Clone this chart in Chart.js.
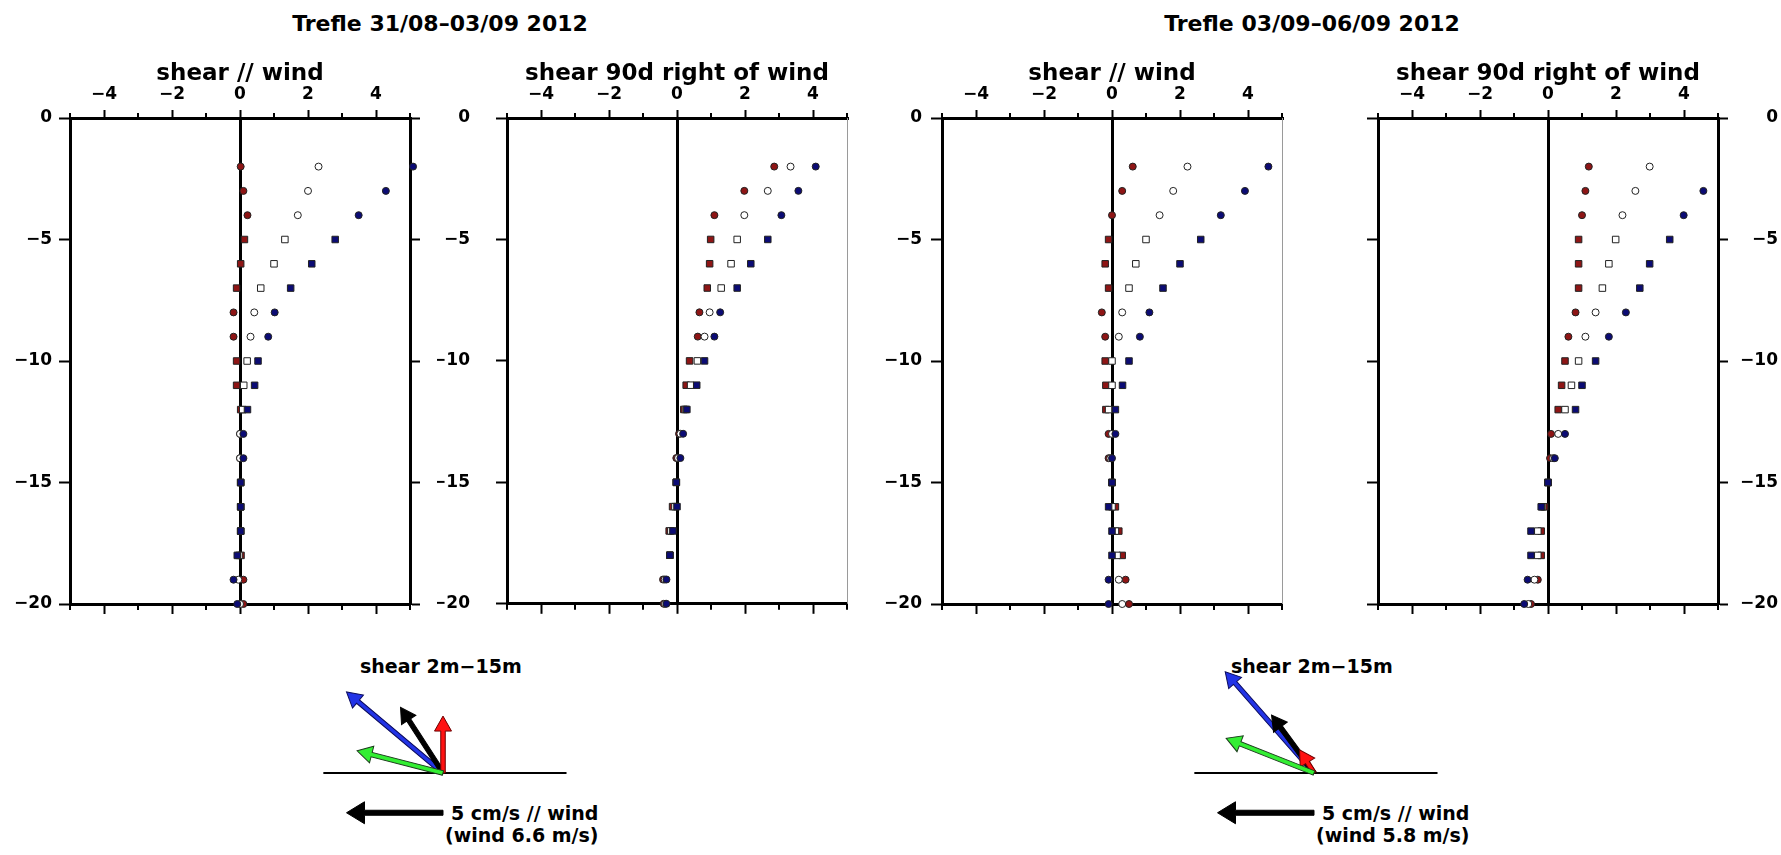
<!DOCTYPE html>
<html>
<head>
<meta charset="utf-8">
<script src="https://cdn.jsdelivr.net/npm/chart.js@4.4.1/dist/chart.umd.min.js"></script>
<style>
  html, body { margin: 0; padding: 0; background: #fff; }
  #page { position: relative; width: 1781px; height: 855px; overflow: hidden; background: #fff;
          font-family: "DejaVu Sans", "Liberation Sans", sans-serif; font-weight: bold; color: #000; }
  #page canvas { position: absolute; }
  .txt { position: absolute; white-space: nowrap; line-height: 1.2; }
</style>
</head>
<body>
<div id="page">
  <div class="txt" style="left:440px; top:11px; font-size:22px; transform:translateX(-50%)">Trefle 31/08–03/09 2012</div>
  <div class="txt" style="left:1312px; top:11px; font-size:22px; transform:translateX(-50%)">Trefle 03/09–06/09 2012</div>

  <div class="txt" style="left:360px; top:655px; font-size:19px">shear 2m−15m</div>
  <div class="txt" style="left:451px; top:802px; font-size:19px">5 cm/s // wind</div>
  <div class="txt" style="left:445px; top:824px; font-size:19px">(wind 6.6 m/s)</div>

  <div class="txt" style="left:1231px; top:655px; font-size:19px">shear 2m−15m</div>
  <div class="txt" style="left:1322px; top:802px; font-size:19px">5 cm/s // wind</div>
  <div class="txt" style="left:1316px; top:824px; font-size:19px">(wind 5.8 m/s)</div>
</div>
<script>
// depth of each level (m)
const depth = [-2, -3, -4, -5, -6, -7, -8, -9, -10, -11, -12, -13, -14, -15, -16, -17, -18, -19, -20];
const markerStyle = ['circle', 'circle', 'circle', 'rect', 'rect', 'rect', 'circle', 'circle', 'rect', 'rect',
                     'rect', 'circle', 'circle', 'rect', 'rect', 'rect', 'rect', 'circle', 'circle'];

const xTicks = [-4, -2, 0, 2, 4];
const xMinorTicks = [-5, -3, -1, 1, 3, 5];
const yTicks = [0, -5, -10, -15, -20];

// Trefle 31/08-03/09, shear // wind
const p1Red   = [0.02, 0.10, 0.22, 0.13, 0.02, -0.10, -0.19, -0.19, -0.10, -0.10, 0.02, 0.00, 0.00, 0.02, 0.02, 0.02, 0.03, 0.10, 0.10];
const p1White = [2.31, 2.00, 1.70, 1.32, 1.00, 0.61, 0.42, 0.31, 0.21, 0.11, 0.08, 0.00, 0.00, 0.02, 0.02, 0.02, -0.03, -0.05, 0.00];
const p1Blue  = [5.09, 4.29, 3.49, 2.80, 2.11, 1.49, 1.02, 0.83, 0.53, 0.43, 0.22, 0.10, 0.10, 0.02, 0.02, 0.02, -0.08, -0.19, -0.08];
// Trefle 31/08-03/09, shear 90d right of wind
const p2Red   = [2.86, 1.98, 1.10, 0.99, 0.96, 0.89, 0.66, 0.61, 0.37, 0.27, 0.20, 0.06, -0.02, -0.02, -0.13, -0.23, -0.21, -0.41, -0.39];
const p2White = [3.34, 2.67, 1.98, 1.77, 1.59, 1.30, 0.96, 0.81, 0.60, 0.40, 0.25, 0.10, 0.03, -0.02, -0.06, -0.18, -0.21, -0.36, -0.35];
const p2Blue  = [4.08, 3.57, 3.07, 2.67, 2.17, 1.77, 1.27, 1.10, 0.81, 0.58, 0.29, 0.18, 0.10, -0.02, 0.00, -0.12, -0.21, -0.31, -0.31];
// Trefle 03/09-06/09, shear // wind
const p3Red   = [0.61, 0.30, 0.00, -0.10, -0.20, -0.10, -0.30, -0.20, -0.20, -0.18, -0.18, -0.10, -0.10, 0.00, 0.10, 0.20, 0.30, 0.40, 0.50];
const p3White = [2.22, 1.80, 1.40, 1.00, 0.70, 0.50, 0.30, 0.20, 0.00, 0.00, -0.10, 0.00, -0.05, 0.00, 0.00, 0.10, 0.15, 0.20, 0.30];
const p3Blue  = [4.60, 3.91, 3.20, 2.61, 2.00, 1.50, 1.10, 0.82, 0.50, 0.31, 0.10, 0.10, 0.00, 0.00, -0.10, 0.00, 0.00, -0.10, -0.10];
// Trefle 03/09-06/09, shear 90d right of wind
const p4Red   = [1.20, 1.10, 1.00, 0.90, 0.90, 0.90, 0.81, 0.60, 0.50, 0.40, 0.30, 0.09, 0.06, 0.00, -0.10, -0.20, -0.20, -0.30, -0.50];
const p4White = [2.99, 2.57, 2.19, 1.99, 1.79, 1.60, 1.40, 1.10, 0.90, 0.69, 0.50, 0.30, 0.15, 0.00, -0.16, -0.30, -0.30, -0.40, -0.58];
const p4Blue  = [5.17, 4.57, 3.99, 3.58, 2.99, 2.70, 2.29, 1.79, 1.40, 1.00, 0.81, 0.50, 0.20, 0.00, -0.20, -0.50, -0.50, -0.60, -0.70];

// shear 2m-15m vectors (cm/s): blue, black, red, green
const pair1Along = [5.00, 2.20, 0.00, 4.45];
const pair1Right = [4.20, 3.40, 2.95, 1.15];
const pair2Along = [4.60, 2.20, 0.75, 4.55];
const pair2Right = [5.25, 3.00, 1.20, 1.80];
const refAlong = [0, 5];        // 5 cm/s // wind
const refRight = [-2.06, -2.06];
const baseAlong = [6.2, -6.4];

const FONT = "'DejaVu Sans', 'Liberation Sans', sans-serif";
const fmt = v => (v < 0 ? '\u2212' + Math.abs(v) : String(v));
const blank = () => '';
const page = document.getElementById('page');

// short ticks at odd values on top and bottom axes
const minorTicks = {
    id: 'minorTicks',
    afterDraw(chart, args, opts) {
        const { ctx, chartArea, scales } = chart;
        ctx.save();
        ctx.strokeStyle = '#000';
        ctx.lineWidth = 2;
        opts.values.forEach(v => {
            const px = scales.x.getPixelForValue(v);
            ctx.beginPath();
            ctx.moveTo(px, chartArea.top);
            ctx.lineTo(px, chartArea.top - opts.top);
            ctx.moveTo(px, chartArea.bottom);
            ctx.lineTo(px, chartArea.bottom + opts.bottom);
            ctx.stroke();
        });
        ctx.restore();
    },
};

function makePanel(p) {
    const W = 340, H = 486, lw = 70, rw = p.rightWidth || 70, topH = 78, botH = 36;
    const cv = document.createElement('canvas');
    cv.width = lw + W + rw;
    cv.height = topH + H + botH;
    cv.style.left = (p.left - lw) + 'px';
    cv.style.top = '40px';
    page.appendChild(cv);

    const series = [
        { label: 'blue', values: p.blue, fill: '#0b0b74' },
        { label: 'white', values: p.white, fill: '#ffffff' },
        { label: 'red', values: p.red, fill: '#8e1515' },
    ];
    const tickFont = { family: FONT, size: 17, weight: 'bold' };
    const thick = { display: true, color: '#000', width: 3 };

    new Chart(cv, {
        type: 'scatter',
        data: {
            datasets: series.map(s => ({
                label: s.label,
                data: depth.map((d, i) => ({ x: s.values[i], y: d })),
                backgroundColor: s.fill,
                borderColor: '#222',
                borderWidth: 1,
                pointStyle: markerStyle,
                pointRadius: markerStyle.map(m => (m === 'rect' ? 4.6 : 3.5)),
                clip: false,
            })),
        },
        options: {
            responsive: false,
            animation: false,
            devicePixelRatio: 1,
            layout: { padding: 0 },
            plugins: {
                legend: { display: false },
                tooltip: { enabled: false },
                minorTicks: { values: xMinorTicks, top: 5, bottom: 6 },
            },
            scales: {
                x: {
                    type: 'linear', position: 'top', min: -5, max: 5,
                    afterBuildTicks: s => { s.ticks = xTicks.map(v => ({ value: v })); },
                    afterFit: s => { s.height = topH; },
                    border: thick,
                    grid: {
                        drawOnChartArea: true, tickLength: 8, tickWidth: 2, tickColor: '#000', lineWidth: 3,
                        color: c => (c.tick && c.tick.value === 0 ? '#000' : 'rgba(0,0,0,0)'),
                    },
                    ticks: { callback: fmt, padding: 5, autoSkip: false, maxRotation: 0, color: '#000', font: tickFont },
                    title: {
                        display: true, text: p.title, color: '#000', padding: { top: 20, bottom: 0 },
                        font: { family: FONT, size: 23, weight: 'bold' },
                    },
                },
                x2: {
                    type: 'linear', position: 'bottom', min: -5, max: 5,
                    afterBuildTicks: s => { s.ticks = xTicks.map(v => ({ value: v })); },
                    afterFit: s => { s.height = botH; },
                    border: thick,
                    grid: { drawOnChartArea: false, tickLength: 10, tickWidth: 2, tickColor: '#000' },
                    ticks: { callback: blank, autoSkip: false, maxRotation: 0 },
                },
                y: {
                    type: 'linear', position: 'left', min: -20, max: 0,
                    afterBuildTicks: s => { s.ticks = yTicks.map(v => ({ value: v })); },
                    afterFit: s => { s.width = lw; },
                    border: thick,
                    grid: { drawOnChartArea: false, tickLength: 11, tickWidth: 2, tickColor: '#000' },
                    ticks: { callback: p.leftLabels ? fmt : blank, padding: p.leftPad || 7, color: '#000', font: tickFont },
                },
                yR: {
                    type: 'linear', position: 'right', min: -20, max: 0,
                    afterBuildTicks: s => { s.ticks = yTicks.map(v => ({ value: v })); },
                    afterFit: s => { s.width = rw; },
                    border: p.rightThick ? thick : { display: true, color: '#9a9a9a', width: 1 },
                    grid: { drawOnChartArea: false, drawTicks: !!p.rightThick, tickLength: 10, tickWidth: 2, tickColor: '#000' },
                    ticks: {
                        callback: p.rightLabels ? fmt : blank, crossAlign: p.rightLabels ? 'far' : 'near',
                        padding: 9, color: '#000', font: tickFont,
                    },
                },
            },
        },
        plugins: [minorTicks],
    });
}

makePanel({ left: 70, title: 'shear // wind', red: p1Red, white: p1White, blue: p1Blue, leftLabels: true, leftPad: 7, rightThick: true });
makePanel({ left: 507, title: 'shear 90d right of wind', red: p2Red, white: p2White, blue: p2Blue, leftLabels: true, leftPad: 26 });
makePanel({ left: 942, title: 'shear // wind', red: p3Red, white: p3White, blue: p3Blue, leftLabels: true, leftPad: 9 });
makePanel({ left: 1378, title: 'shear 90d right of wind', red: p4Red, white: p4White, blue: p4Blue, rightThick: true, rightLabels: true, rightWidth: 60 });

// ---- shear vectors ----
const arrowStyles = [
    { fill: '#2233e6', edge: '#0b0b5c', shaft: 4.5, head: 15, headW: 17 },
    { fill: '#000000', edge: '#000000', shaft: 4.5, head: 15, headW: 17 },
    { fill: '#ff1111', edge: '#6b0000', shaft: 4.5, head: 15, headW: 17 },
    { fill: '#33ee33', edge: '#1b3b1b', shaft: 4.5, head: 15, headW: 17 },
];
const refStyle = { fill: '#000', edge: '#000', shaft: 5, head: 18, headW: 22 };

function drawArrow(ctx, x0, y0, x1, y1, st) {
    const len = Math.hypot(x1 - x0, y1 - y0);
    const hl = Math.min(st.head, len);
    ctx.save();
    ctx.translate(x0, y0);
    ctx.rotate(Math.atan2(y1 - y0, x1 - x0));
    ctx.beginPath();
    ctx.moveTo(0, -st.shaft / 2);
    ctx.lineTo(len - hl, -st.shaft / 2);
    ctx.lineTo(len - hl, -st.headW / 2);
    ctx.lineTo(len, 0);
    ctx.lineTo(len - hl, st.headW / 2);
    ctx.lineTo(len - hl, st.shaft / 2);
    ctx.lineTo(0, st.shaft / 2);
    ctx.closePath();
    ctx.fillStyle = st.fill;
    ctx.fill();
    ctx.lineWidth = 1;
    ctx.strokeStyle = st.edge;
    ctx.stroke();
    ctx.restore();
}

const arrowPlugin = {
    id: 'arrows',
    afterDatasetsDraw(chart) {
        const { ctx, scales: { x, y } } = chart;
        chart.data.datasets.forEach(ds => {
            if (!ds.arrow) return;
            const [a, b] = ds.data;
            drawArrow(ctx, x.getPixelForValue(a.x), y.getPixelForValue(a.y),
                      x.getPixelForValue(b.x), y.getPixelForValue(b.y), ds.arrow);
        });
    },
};

function makeArrows(originX, along, right) {
    const pxPerUnit = 19.3, w = 300, h = 215, ox = 143, oy = 133;
    const cv = document.createElement('canvas');
    cv.width = w;
    cv.height = h;
    cv.style.left = (originX - ox) + 'px';
    cv.style.top = '640px';
    page.appendChild(cv);

    const datasets = [{
        data: baseAlong.map(a => ({ x: a, y: 0 })),
        showLine: true, borderColor: '#000', borderWidth: 2, pointRadius: 0,
    }];
    along.forEach((a, i) => {
        datasets.push({ data: [{ x: 0, y: 0 }, { x: a, y: right[i] }], pointRadius: 0, arrow: arrowStyles[i] });
    });
    datasets.push({ data: refAlong.map((a, i) => ({ x: a, y: refRight[i] })), pointRadius: 0, arrow: refStyle });

    new Chart(cv, {
        type: 'scatter',
        data: { datasets },
        options: {
            responsive: false,
            animation: false,
            devicePixelRatio: 1,
            layout: { padding: 0 },
            plugins: { legend: { display: false }, tooltip: { enabled: false } },
            scales: {
                x: { type: 'linear', reverse: true, display: false,
                     max: ox / pxPerUnit, min: ox / pxPerUnit - w / pxPerUnit },
                y: { type: 'linear', display: false,
                     max: oy / pxPerUnit, min: oy / pxPerUnit - h / pxPerUnit },
            },
        },
        plugins: [arrowPlugin],
    });
}

makeArrows(443, pair1Along, pair1Right);
makeArrows(1314, pair2Along, pair2Right);
</script>
</body>
</html>
